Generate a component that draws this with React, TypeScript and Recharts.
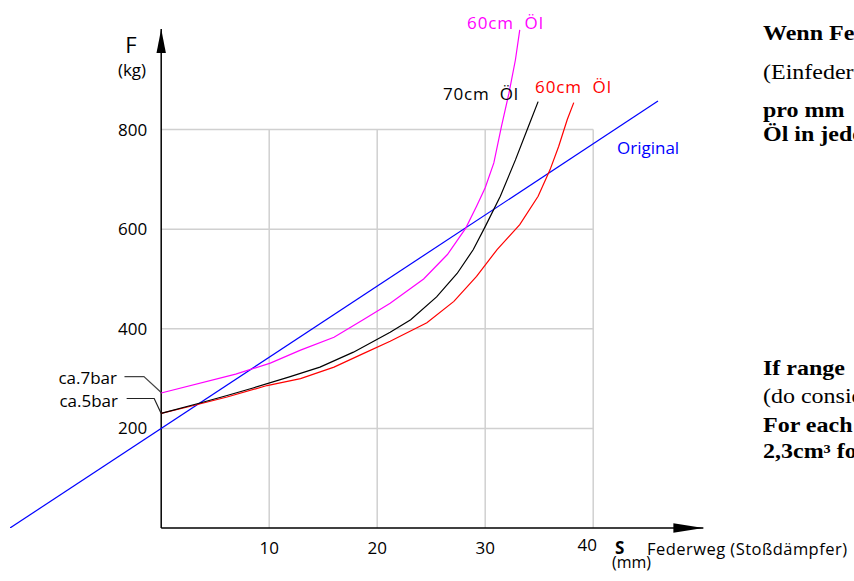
import { ComposedChart, Line, XAxis, YAxis, ReferenceLine } from 'recharts';

// Federweg s (mm) vs. Kraft F (kg)
const xTicks = [10, 20, 30, 40];
const yTicks = [200, 400, 600, 800];

const original = [
  { s: -14, f: 0 },
  { s: 46, f: 857 },
];

const oel60Magenta = [
  { s: 0, f: 271 }, { s: 6.9, f: 309 }, { s: 10.1, f: 331 }, { s: 12.9, f: 357 },
  { s: 16, f: 383 }, { s: 18.7, f: 418 }, { s: 21.2, f: 451 }, { s: 24.3, f: 500 },
  { s: 26.5, f: 549 }, { s: 28.2, f: 602 }, { s: 29.2, f: 646 }, { s: 30, f: 683 },
  { s: 30.8, f: 733 }, { s: 31.5, f: 806 }, { s: 32.2, f: 873 }, { s: 32.8, f: 940 },
  { s: 33.2, f: 1000 },
];

const oel70 = [
  { s: 0, f: 230 }, { s: 3.6, f: 251 }, { s: 6.1, f: 266 }, { s: 8.5, f: 281 },
  { s: 11.8, f: 303 }, { s: 14.7, f: 323 }, { s: 17.8, f: 353 }, { s: 21.2, f: 393 },
  { s: 23.1, f: 418 }, { s: 25.5, f: 464 }, { s: 27.4, f: 511 }, { s: 28.9, f: 559 },
  { s: 30, f: 605 }, { s: 31.4, f: 666 }, { s: 32.8, f: 739 }, { s: 34, f: 806 },
  { s: 34.9, f: 856 },
];

const oel60Red = [
  { s: 0, f: 230 }, { s: 3, f: 246 }, { s: 6.1, f: 263 }, { s: 9.8, f: 286 },
  { s: 12.9, f: 300 }, { s: 16, f: 323 }, { s: 18.7, f: 350 }, { s: 21.2, f: 375 },
  { s: 24.6, f: 412 }, { s: 27.1, f: 455 }, { s: 29.2, f: 505 }, { s: 31.1, f: 559 },
  { s: 33.2, f: 609 }, { s: 34.9, f: 666 }, { s: 36, f: 719 }, { s: 36.8, f: 766 },
  { s: 37.6, f: 820 }, { s: 38.2, f: 854 },
];

// leader lines for the "ca. x bar" notes
const leader7 = [{ s: -3.4, f: 304 }, { s: -1.6, f: 304 }, { s: 0, f: 272 }];
const leader5 = [{ s: -3.2, f: 260 }, { s: -0.65, f: 260 }, { s: 0, f: 230 }];

const font = "'Open Sans', sans-serif";
const serif = "'Liberation Serif', 'Times New Roman', serif";

const arrow = (dir: 'up' | 'right') => (p: any) => {
  const { x1, y1, x2, y2 } = p;
  const head =
    dir === 'up'
      ? `${x2},${y2} ${x2 - 4.7},${y2 + 24} ${x2 + 4.7},${y2 + 24}`
      : `${x2},${y2} ${x2 - 30},${y2 - 4.7} ${x2 - 30},${y2 + 4.7}`;
  return (
    <g>
      <line x1={x1} y1={y1} x2={x2} y2={y2} stroke="#000" strokeWidth={1.5} />
      <polygon points={head} fill="#000" />
    </g>
  );
};

const noteTf = (y: number) => `translate(763 ${y}) scale(1.2 1)`;

export default function App() {
  return (
    <div style={{ position: 'absolute', left: 0, top: 0, width: 854, height: 581, background: '#fff', overflow: 'hidden' }}>
      <ComposedChart width={854} height={581} margin={{ top: 0, right: 142, bottom: 53, left: 10 }}>
        <XAxis type="number" dataKey="s" domain={[-14, 51]} hide allowDataOverflow />
        <YAxis type="number" dataKey="f" domain={[0, 1060]} hide allowDataOverflow />

        {xTicks.map((t) => (
          <ReferenceLine
            key={'vx' + t}
            segment={[{ x: t, y: 0 }, { x: t, y: 800 }]}
            stroke="#d0d0d0"
            strokeWidth={1.5}
            ifOverflow="visible"
            label={{
              value: t,
              position: 'bottom',
              offset: t === 40 ? 11 : 14,
              dx: t === 40 ? -6 : 0,
              fill: '#000',
              fontSize: 17,
              fontFamily: font,
            }}
          />
        ))}
        {yTicks.map((t) => (
          <ReferenceLine
            key={'hy' + t}
            segment={[{ x: 0, y: t }, { x: 40, y: t }]}
            stroke="#d0d0d0"
            strokeWidth={1.5}
            ifOverflow="visible"
            label={{ value: t, position: 'left', offset: 14, fill: '#000', fontSize: 17, fontFamily: font }}
          />
        ))}

        <ReferenceLine segment={[{ x: 0, y: 0 }, { x: 0, y: 1002 }]} ifOverflow="visible" shape={arrow('up')} />
        <ReferenceLine segment={[{ x: 0, y: 0 }, { x: 50.2, y: 0 }]} ifOverflow="visible" shape={arrow('right')} />

        <Line data={leader7} dataKey="f" type="linear" stroke="#444" strokeWidth={1.2} dot={false} isAnimationActive={false} />
        <Line data={leader5} dataKey="f" type="linear" stroke="#222" strokeWidth={1.2} dot={false} isAnimationActive={false} />
        <Line data={original} dataKey="f" type="linear" stroke="#0000ff" strokeWidth={1.2} dot={false} isAnimationActive={false} />
        <Line data={oel60Red} dataKey="f" type="linear" stroke="#ff0000" strokeWidth={1.2} dot={false} isAnimationActive={false} />
        <Line data={oel70} dataKey="f" type="linear" stroke="#000" strokeWidth={1.2} dot={false} isAnimationActive={false} />
        <Line data={oel60Magenta} dataKey="f" type="linear" stroke="#ff00ff" strokeWidth={1.2} dot={false} isAnimationActive={false} />
      </ComposedChart>

      <svg width={854} height={581} style={{ position: 'absolute', left: 0, top: 0, pointerEvents: 'none' }}>
        <g fontFamily={font} fontSize={17}>
          <text x={131} y={53} fontSize={22} textAnchor="middle">F</text>
          <text x={132} y={76} textAnchor="middle">(kg)</text>
          <text x={117} y={384} textAnchor="end">ca.7bar</text>
          <text x={118} y={406.5} textAnchor="end">ca.5bar</text>
          <text x={467} y={29} fill="#ff00ff" textLength={76} style={{ whiteSpace: 'pre' }}>60cm  Öl</text>
          <text x={443} y={100} fill="#000" textLength={75} style={{ whiteSpace: 'pre' }}>70cm  Öl</text>
          <text x={535} y={92.5} fill="#ff0000" textLength={76} style={{ whiteSpace: 'pre' }}>60cm  Öl</text>
          <text x={617} y={154} fill="#0000ff">Original</text>
          <text x={615} y={554} fontWeight="bold">S</text>
          <text x={647} y={555} fontSize={16.5} textLength={200}>Federweg (Stoßdämpfer)</text>
          <text x={612} y={568} fontSize={16}>(mm)</text>
        </g>
        <g fontFamily={serif} fontSize={20} fill="#000">
          <text transform={noteTf(40)} fontWeight="bold">Wenn Federweg</text>
          <text transform={noteTf(79)}>(Einfederung</text>
          <text transform={noteTf(117)} fontWeight="bold">pro mm</text>
          <text transform={noteTf(141)} fontWeight="bold">Öl in jedem</text>
          <text transform={noteTf(375)} fontWeight="bold">If range</text>
          <text transform={noteTf(403)}>(do consider</text>
          <text transform={noteTf(432)} fontWeight="bold">For each</text>
          <text transform={noteTf(458)} fontWeight="bold">2,3cm³ for</text>
        </g>
      </svg>
    </div>
  );
}
